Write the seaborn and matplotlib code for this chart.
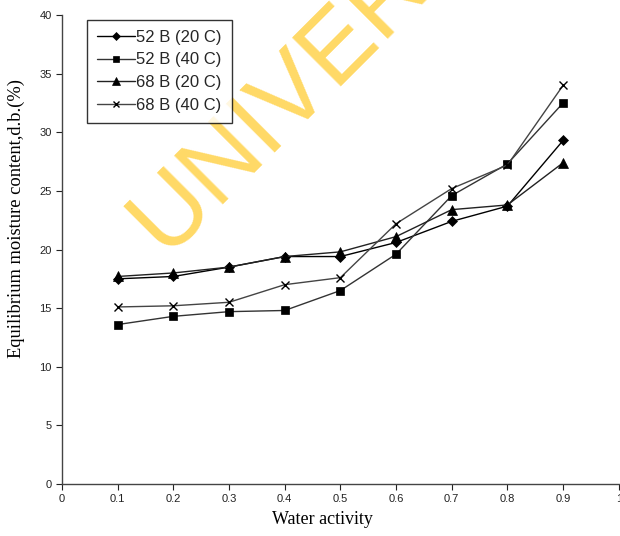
import matplotlib
matplotlib.use("Agg")
import matplotlib.pyplot as plt
import seaborn as sns
import pandas as pd

water_activity = [0.1, 0.2, 0.3, 0.4, 0.5, 0.6, 0.7, 0.8, 0.9]
b52_20c = [17.5, 17.7, 18.5, 19.4, 19.4, 20.6, 22.4, 23.7, 29.3]
b52_40c = [13.6, 14.3, 14.7, 14.8, 16.5, 19.6, 24.6, 27.3, 32.5]
b68_20c = [17.7, 18.0, 18.5, 19.4, 19.8, 21.1, 23.4, 23.8, 27.4]
b68_40c = [15.1, 15.2, 15.5, 17.0, 17.6, 22.2, 25.2, 27.2, 34.0]
series_names = ["52 B (20 C)", "52 B (40 C)", "68 B (20 C)", "68 B (40 C)"]

# marker, line colour, marker size
styles = [("D", "#000000", 5), ("s", "#333333", 6), ("^", "#222222", 6.5), ("x", "#444444", 6)]

sns.set_theme(style="white")
plt.rcParams["font.family"] = ["Liberation Sans", "DejaVu Sans"]

fig = plt.figure(figsize=(6.2, 5.36), dpi=100)
ax = fig.add_axes([0.1, 0.097, 0.898, 0.875])
ax.patch.set_alpha(0)

for name, vals, (mk, col, ms) in zip(series_names, [b52_20c, b52_40c, b68_20c, b68_40c], styles):
    df = pd.DataFrame({"aw": water_activity, "emc": vals})
    sns.lineplot(data=df, x="aw", y="emc", ax=ax, color=col, marker=mk,
                 markersize=ms, markeredgecolor="black", markerfacecolor="black",
                 markeredgewidth=1 if mk == "x" else 0.5, linewidth=1, label=name, zorder=3)

ax.set_xlim(0, 1)
ax.set_ylim(0, 40)
ax.set_xticks([i / 10 for i in range(11)])
ax.set_xticklabels(["0", "0.1", "0.2", "0.3", "0.4", "0.5", "0.6", "0.7", "0.8", "0.9", "1"])
ax.set_yticks(range(0, 41, 5))
ax.tick_params(axis="both", direction="out", length=4, width=0.8, labelsize=8,
               colors="#222222", bottom=True, left=True)
for s in ["top", "right"]:
    ax.spines[s].set_visible(False)
for s in ["left", "bottom"]:
    ax.spines[s].set_color("#444444")
    ax.spines[s].set_linewidth(1)

ax.set_xlabel("Water activity", family="Liberation Serif", fontsize=13, color="black", va="top")
ax.set_ylabel("Equilibrium moisture content,d.b.(%)", family="Liberation Serif",
              fontsize=13.3, color="black")
ax.xaxis.set_label_coords(0.468, -0.058)
ax.yaxis.set_label_coords(-0.066, 0.567)

leg = ax.legend(loc="upper left", bbox_to_anchor=(0.045, 0.99), frameon=True, fancybox=False,
                fontsize=12, handlelength=2.3, borderpad=0.6, labelspacing=0.46,
                handletextpad=0.05, borderaxespad=0, markerscale=0.8)
leg.get_frame().set_edgecolor("black")
leg.get_frame().set_linewidth(1)
leg.set_zorder(5)

# watermark
ax.text(0.266, 0.524, "UNIVERSITY", transform=fig.transFigure, fontsize=72, color="#FFD966",
        rotation=45, rotation_mode="anchor", ha="left", va="baseline",
        family="Liberation Sans", zorder=0.5, clip_on=False)

fig.savefig("out.png", dpi=100)
